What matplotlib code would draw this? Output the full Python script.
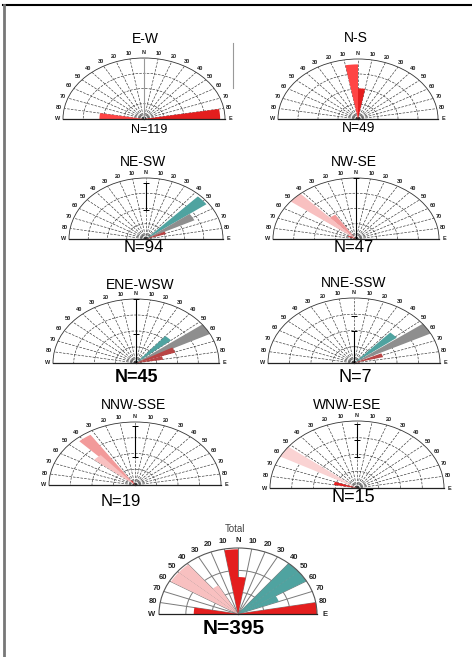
import numpy as np
import matplotlib
matplotlib.use("Agg")
import matplotlib.pyplot as plt
from matplotlib.lines import Line2D

plt.rcParams['font.family'] = ['Liberation Sans', 'DejaVu Sans']

# panel names and sample sizes
panel_names = ["E-W", "N-S", "NE-SW", "NW-SE", "ENE-WSW", "NNE-SSW",
               "NNW-SSE", "WNW-ESE", "Total"]
panel_counts = [119, 49, 94, 47, 45, 7, 19, 15, 395]

# bar azimuths (deg clockwise from N, bin centre), lengths (% of outer ring), class
ew_az = [85, 275]
ew_len = [94, 55]
ew_cls = ["red", "lightred"]

ns_az = [355, 5]
ns_len = [91, 51]
ns_cls = ["lightred", "red"]

nesw_az = [49, 59, 68]
nesw_len = [97, 70, 27]
nesw_cls = ["teal", "gray", "darkred"]

nwse_az = [313, 323, 295]
nwse_len = [100, 47, 10]
nwse_cls = ["lightpink", "pink", "red"]

enewsw_az = [45, 58, 66, 76]
enewsw_len = [55, 100, 50, 33]
enewsw_cls = ["teal", "gray", "darkred", "darkred"]

nnessw_az = [47, 58, 70]
nnessw_len = [63, 100, 35]
nnessw_cls = ["teal", "gray", "darkred"]

nnwsse_az = [322, 315, 330]
nnwsse_len = [95, 62, 8]
nnwsse_cls = ["pink", "lightpink", "red"]

wnwese_az = [303, 285]
wnwese_len = [100, 27]
wnwese_cls = ["palepink", "red"]

total_az = [355, 5, 305, 315, 325, 275, 45, 55, 65, 85]
total_len = [98, 56, 98, 98, 50, 56, 100, 100, 55, 100]
total_cls = ["red", "red", "lightpink", "lightpink", "lightpink", "red",
             "teal", "teal", "teal", "red"]

colors = {"red": "#e41e1e", "lightred": "#ff4545", "teal": "#4fa3a0",
          "gray": "#8e8e8e", "darkred": "#b94444", "pink": "#f29a9a",
          "lightpink": "#f8c0c0", "palepink": "#fad3d3"}

W, H = 472, 657
fig = plt.figure(figsize=(W / 100, H / 100), dpi=100)

# pixel geometry of each half-rose: centre x, centre y, x radius, y radius
geom = [(144, 119, 81, 61), (358, 119, 80, 60),
        (146, 239, 77, 61), (356, 239, 83, 61),
        (136, 363, 83, 64), (354, 363, 86, 65),
        (135, 485, 86, 63), (357, 488, 87, 67),
        (238, 614, 79, 66)]
title_pos = [(145, 39), (356, 38), (143, 162), (354, 162), (140, 285),
             (354, 283), (133, 405), (347, 405), (235, 529)]
n_pos = [(149, 130), (359, 128), (144, 248), (354, 248), (137, 378),
         (355, 377), (121, 501), (353, 498), (234, 629)]
n_size = [9, 10, 12, 12, 13, 13, 12, 13, 15]
n_bold = [False, False, False, False, True, False, False, False, True]

# vertical scale marks along N: (r from, r to, extra tick r)
scales = [(0, 100, None), None, (48, 92, None), (0, 100, None), (0, 100, 46),
          (0, 50, 72), (45, 93, None), (47, 95, 72), None]

data = [(ew_az, ew_len, ew_cls), (ns_az, ns_len, ns_cls),
        (nesw_az, nesw_len, nesw_cls), (nwse_az, nwse_len, nwse_cls),
        (enewsw_az, enewsw_len, enewsw_cls), (nnessw_az, nnessw_len, nnessw_cls),
        (nnwsse_az, nnwsse_len, nnwsse_cls), (wnwese_az, wnwese_len, wnwese_cls),
        (total_az, total_len, total_cls)]

ticks = list(range(0, 181, 10))
tick_labels = []
for t in ticks:
    if t == 90:
        tick_labels.append("N")
    elif t == 0:
        tick_labels.append("E")
    elif t == 180:
        tick_labels.append("W")
    else:
        tick_labels.append(str(abs(90 - t)))

for i in range(len(panel_names)):
    cx, cy, rx, ry = geom[i]
    total = (i == 8)
    rect = [(cx - rx) / W, (H - cy - ry / 2) / H, 2 * rx / W, 2 * ry / H]
    ax = fig.add_axes(rect, projection='polar')
    ax.set_aspect('auto')
    ax.set_thetamin(0)
    ax.set_thetamax(180)
    ax.set_ylim(0, 100)
    ax.set_axisbelow(True)
    ax.patch.set_alpha(0)

    az, ln, cl = data[i]
    theta = np.deg2rad((90 - np.array(az)) % 360)
    ax.bar(theta, ln, width=np.deg2rad(10), color=[colors[c] for c in cl],
           edgecolor='none', zorder=2)

    ax.set_thetagrids(ticks, tick_labels)
    if total:
        ax.set_rgrids([33, 66], labels=['', ''])
        ax.xaxis.grid(True, color='#7a7a7a', lw=0.7, linestyle='-')
        ax.yaxis.grid(True, color='#7a7a7a', lw=0.7, linestyle='-')
        ax.tick_params(axis='x', labelsize=5.5, length=0, pad=-1.5)
        ax.spines['polar'].set(color='#555555', lw=0.8)
    else:
        ax.set_rgrids([25, 50, 75], labels=['', '', ''])
        ax.xaxis.grid(True, color='#333333', lw=0.45, linestyle=(0, (4, 2)))
        ax.yaxis.grid(True, color='#333333', lw=0.45, linestyle=(0, (4, 2)))
        ax.tick_params(axis='x', labelsize=4, length=0, pad=-3)
        ax.spines['polar'].set(color='#333333', lw=0.6)
    for lab in ax.get_xticklabels():
        lab.set_fontweight('bold')
        lab.set_color('#222222')
    ax.spines['start'].set(color='#222222', lw=0.9)
    ax.spines['end'].set(color='#222222', lw=0.9)

    sc = scales[i]
    if sc is not None:
        r1, r2, mid = sc
        col = '#999999' if i == 0 else 'black'
        ax.plot([np.pi / 2, np.pi / 2], [r1, r2], color=col, lw=0.8,
                marker='_', ms=5, mew=0.7, zorder=3)
        if mid is not None:
            ax.plot([np.pi / 2], [mid], color='black', marker='_', ms=5,
                    mew=0.7, zorder=3)

    tx, ty = title_pos[i]
    if total:
        fig.text(tx / W, 1 - ty / H, panel_names[i], ha='center', va='center',
                 fontsize=7, color='#444444')
    else:
        fig.text(tx / W, 1 - ty / H, panel_names[i], ha='center', va='center',
                 fontsize=10)
    nx, ny = n_pos[i]
    fig.text(nx / W, 1 - ny / H, "N=%d" % panel_counts[i], ha='center',
             va='center', fontsize=n_size[i],
             fontweight='bold' if n_bold[i] else 'normal')

# page frame
fig.add_artist(Line2D([3 / W, 1], [1 - 5 / H, 1 - 5 / H], color='black', lw=1.5))
fig.add_artist(Line2D([4 / W, 4 / W], [0, 1 - 5 / H], color='#777777', lw=2))
fig.add_artist(Line2D([233 / W, 233 / W], [1 - 43 / H, 1 - 88 / H],
                      color='#999999', lw=0.8))

fig.savefig("out.png", dpi=100)
